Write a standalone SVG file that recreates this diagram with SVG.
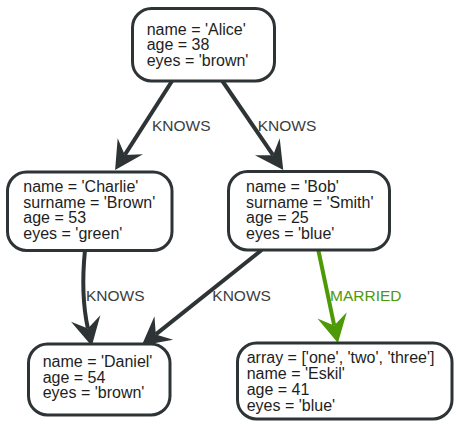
<svg xmlns="http://www.w3.org/2000/svg" width="454" height="421" viewBox="0 0 454 421">
  <style>
    .node rect { fill: #ffffff; stroke: #2e3436; stroke-width: 3; }
    .node text { font-family: "Liberation Sans", Arial, sans-serif; font-size: 16px; fill: #1e1e1e; }
    .edge { fill: none; stroke-width: 4; }
    .knows { stroke: #2e3436; }
    .married { stroke: #4e9a06; }
    .label { font-family: "Liberation Sans", Arial, sans-serif; font-size: 15.5px; }
    .label.knows-l { fill: #3a3d3e; }
    .label.married-l { fill: #4e9a06; }
  </style>
  <defs>
    <!-- concave arrowhead; path ends at the notch, tip sits 18px ahead -->
    <marker id="arrow-dark" markerUnits="userSpaceOnUse" orient="auto" refX="0" refY="0" markerWidth="40" markerHeight="40" overflow="visible">
      <path d="M18,0 L-10.25,-15 L0,0 L-10.25,15 Z" fill="#2e3436"/>
    </marker>
    <marker id="arrow-green" markerUnits="userSpaceOnUse" orient="auto" refX="0" refY="0" markerWidth="40" markerHeight="40" overflow="visible">
      <path d="M18,0 L-10.25,-15 L0,0 L-10.25,15 Z" fill="#4e9a06"/>
    </marker>
  </defs>

  <g id="connectors">
    <path class="edge knows" d="M172.7,80 L124.8,154.9" marker-end="url(#arrow-dark)"/>
    <path class="edge knows" d="M221.7,80 L273.1,155.2" marker-end="url(#arrow-dark)"/>
    <path class="edge knows" d="M85,250 Q80.5,295 87.9,328.5" marker-end="url(#arrow-dark)"/>
    <path class="edge knows" d="M261.7,250 L155.8,334.4" marker-end="url(#arrow-dark)"/>
    <path class="edge married" d="M318.3,250 L334.2,325.4" marker-end="url(#arrow-green)"/>
    <text class="label knows-l" x="152" y="131">KNOWS</text>
    <text class="label knows-l" x="257.7" y="131">KNOWS</text>
    <text class="label knows-l" x="86" y="301">KNOWS</text>
    <text class="label knows-l" x="212.3" y="301">KNOWS</text>
    <text class="label married-l" x="330" y="301">MARRIED</text>
  </g>

  <g id="node-alice" class="node">
    <rect x="132.5" y="8.5" width="142" height="72.5" rx="19"/>
    <text x="146.7" y="34.5">name = 'Alice'</text>
    <text x="146.7" y="50">age = 38</text>
    <text x="146.7" y="65.5">eyes = 'brown'</text>
  </g>

  <g id="node-charlie" class="node">
    <rect x="7.5" y="172" width="164.5" height="78.5" rx="19"/>
    <text x="23.3" y="191.7">name = 'Charlie'</text>
    <text x="23.3" y="207.5">surname = 'Brown'</text>
    <text x="23.3" y="223.3">age = 53</text>
    <text x="23.3" y="239.2">eyes = 'green'</text>
  </g>

  <g id="node-bob" class="node">
    <rect x="228.5" y="171.5" width="161" height="78.5" rx="19"/>
    <text x="246" y="191.7">name = 'Bob'</text>
    <text x="246" y="207.5">surname = 'Smith'</text>
    <text x="246" y="223.3">age = 25</text>
    <text x="246" y="239.2">eyes = 'blue'</text>
  </g>

  <g id="node-daniel" class="node">
    <rect x="28.5" y="344" width="141.5" height="71" rx="19"/>
    <text x="42.7" y="366.7">name = 'Daniel'</text>
    <text x="42.7" y="382.5">age = 54</text>
    <text x="42.7" y="398.3">eyes = 'brown'</text>
  </g>

  <g id="node-eskil" class="node">
    <rect x="237.5" y="343" width="214.5" height="76" rx="19"/>
    <text x="246.7" y="363">array = ['one', 'two', 'three']</text>
    <text x="246.7" y="379">name = 'Eskil'</text>
    <text x="246.7" y="395">age = 41</text>
    <text x="246.7" y="411">eyes = 'blue'</text>
  </g>
</svg>
